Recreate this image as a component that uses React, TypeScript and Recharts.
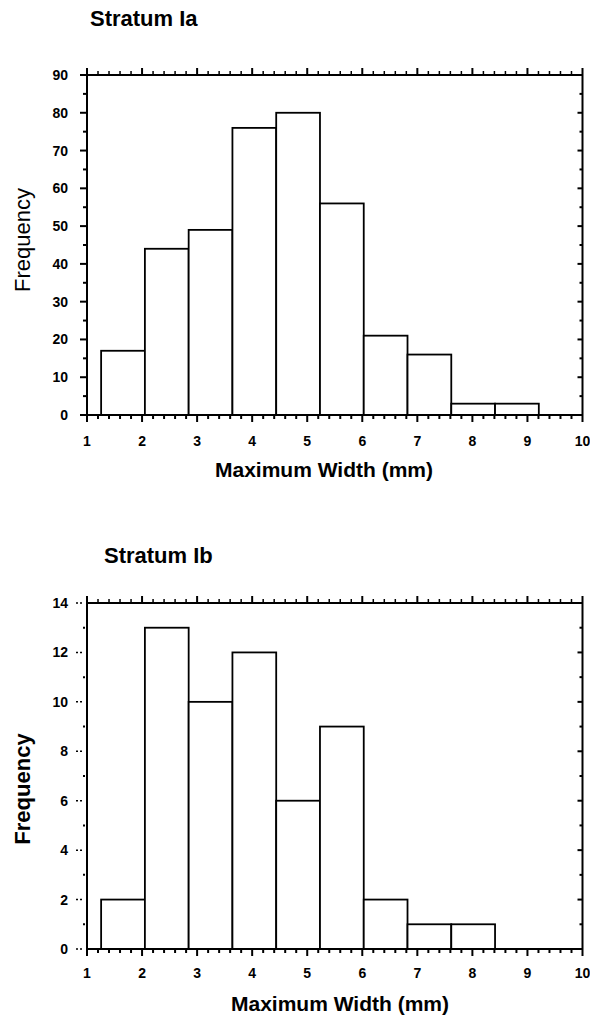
import React from 'react';
import { BarChart, Bar, XAxis, YAxis } from 'recharts';

const FONT = '"Liberation Sans", Arial, Helvetica, sans-serif';

// histogram bins in mm (same bins for both strata)
const binStarts = [1.26, 2.055, 2.85, 3.645, 4.44, 5.235, 6.03, 6.825, 7.62, 8.415];
const binEnds = [2.055, 2.85, 3.645, 4.44, 5.235, 6.03, 6.825, 7.62, 8.415, 9.21];

// frequencies
const countsIa = [17, 44, 49, 76, 80, 56, 21, 16, 3, 3];
const countsIb = [2, 13, 10, 12, 6, 9, 2, 1, 1, 0];

// axis ticks: labelled majors + unlabelled minors
const xMajorTicks = [1, 2, 3, 4, 5, 6, 7, 8, 9, 10];
const xTicks = Array.from({ length: 46 }, (_, i) => Math.round((1 + i * 0.2) * 10) / 10);
const yTicksIa = [0, 5, 10, 15, 20, 25, 30, 35, 40, 45, 50, 55, 60, 65, 70, 75, 80, 85, 90];
const yMajorIa = [0, 10, 20, 30, 40, 50, 60, 70, 80, 90];
const yTicksIb = [0, 1, 2, 3, 4, 5, 6, 7, 8, 9, 10, 11, 12, 13, 14];
const yMajorIb = [0, 2, 4, 6, 8, 10, 12, 14];

const W = 590;
const PLOT_LEFT = 87;
const PLOT_RIGHT = 582.5;
const PX_PER_MM = (PLOT_RIGHT - PLOT_LEFT) / 9;

const makeBins = (counts: number[]) =>
  binStarts.map((s, i) => ({
    start: s,
    end: binEnds[i],
    mid: (s + binEnds[i]) / 2,
    count: counts[i],
  }));

interface Geo {
  height: number;
  top: number;
  bottom: number;
  xLabelDy: number;
  xTitleX: number;
  yTitleY: number;
  yTitleBold: boolean;
  dottedY: boolean;
}

// bar outline, edges taken from bin start/end around the scaled centre
const HistRect = (props: any) => {
  const { x, width, y, height, payload } = props;
  if (!payload || !payload.count) return null;
  const cx = x + width / 2;
  const left = cx - (payload.mid - payload.start) * PX_PER_MM;
  const w = (payload.end - payload.start) * PX_PER_MM;
  return <rect x={left} y={y} width={w} height={height} fill="#fff" stroke="#000" strokeWidth={1.8} />;
};

const isMajor = (v: number, majors: number[]) => majors.some((m) => Math.abs(m - v) < 1e-6);

const BottomTick = (props: any) => {
  const { x, payload, g } = props;
  const v = payload.value;
  const major = isMajor(v, xMajorTicks);
  return (
    <g>
      <line x1={x} x2={x} y1={g.bottom} y2={g.bottom + (major ? 7 : 4)} stroke="#000" strokeWidth={2} />
      {major && (
        <text x={x} y={g.bottom + g.xLabelDy} textAnchor="middle" fontSize={14} fontWeight="bold" fontFamily={FONT} fill="#000">
          {v}
        </text>
      )}
    </g>
  );
};

const TopTick = (props: any) => {
  const { x, payload, g } = props;
  const major = isMajor(payload.value, xMajorTicks);
  return <line x1={x} x2={x} y1={g.top} y2={g.top - (major ? 7 : 4)} stroke="#000" strokeWidth={major ? 2 : 1.5} />;
};

const LeftTick = (props: any) => {
  const { y, payload, g, majors } = props;
  const v = payload.value;
  const major = isMajor(v, majors);
  let mark;
  if (g.dottedY) {
    mark = major ? (
      <line x1={76} x2={83} y1={y} y2={y} stroke="#000" strokeWidth={1.5} strokeDasharray="2 2" />
    ) : (
      <line x1={83} x2={85} y1={y} y2={y} stroke="#000" strokeWidth={2} />
    );
  } else {
    mark = <line x1={PLOT_LEFT - (major ? 7 : 4)} x2={PLOT_LEFT} y1={y} y2={y} stroke="#000" strokeWidth={2} />;
  }
  return (
    <g>
      {mark}
      {major && (
        <text x={68} y={y + 5} textAnchor="end" fontSize={14} fontWeight="bold" fontFamily={FONT} fill="#000">
          {v}
        </text>
      )}
    </g>
  );
};

const RightTick = (props: any) => {
  const { y, payload, majors } = props;
  const major = isMajor(payload.value, majors);
  return <line x1={PLOT_RIGHT - (major ? 5 : 3)} x2={PLOT_RIGHT} y1={y} y2={y} stroke="#000" strokeWidth={2} />;
};

const XTitle = ({ g }: { g: Geo }) => (
  <text x={g.xTitleX} y={g.bottom + 62} textAnchor="middle" fontSize={21} fontWeight="bold" fontFamily={FONT} fill="#000">
    Maximum Width (mm)
  </text>
);

const YTitle = ({ g }: { g: Geo }) => (
  <text
    x={30}
    y={g.yTitleY}
    transform={`rotate(-90, 30, ${g.yTitleY})`}
    textAnchor="middle"
    fontSize={22}
    fontWeight={g.yTitleBold ? 'bold' : 'normal'}
    fontFamily={FONT}
    fill="#000"
  >
    Frequency
  </text>
);

interface HistProps {
  counts: number[];
  yMax: number;
  yTicks: number[];
  yMajors: number[];
  g: Geo;
}

function Histogram({ counts, yMax, yTicks, yMajors, g }: HistProps) {
  const data = makeBins(counts);
  return (
    <BarChart
      width={W}
      height={g.height}
      data={data}
      margin={{ top: g.top - 1, right: W - PLOT_RIGHT - 1, bottom: 0, left: 0 }}
    >
      <XAxis
        xAxisId="bottom"
        dataKey="mid"
        type="number"
        domain={[1, 10]}
        ticks={xTicks}
        interval={0}
        allowDataOverflow
        height={g.height - g.bottom}
        axisLine={{ stroke: '#000', strokeWidth: 2 }}
        tickLine={false}
        tick={(p: any) => <BottomTick {...p} g={g} />}
        label={<XTitle g={g} />}
      />
      <XAxis
        xAxisId="top"
        orientation="top"
        dataKey="mid"
        type="number"
        domain={[1, 10]}
        ticks={xTicks}
        interval={0}
        allowDataOverflow
        height={1}
        axisLine={{ stroke: '#000', strokeWidth: 2 }}
        tickLine={false}
        tick={(p: any) => <TopTick {...p} g={g} />}
      />
      <YAxis
        yAxisId="left"
        type="number"
        domain={[0, yMax]}
        ticks={yTicks}
        interval={0}
        allowDataOverflow
        width={PLOT_LEFT}
        axisLine={{ stroke: '#000', strokeWidth: 2 }}
        tickLine={false}
        tick={(p: any) => <LeftTick {...p} g={g} majors={yMajors} />}
        label={<YTitle g={g} />}
      />
      <YAxis
        yAxisId="right"
        orientation="right"
        type="number"
        domain={[0, yMax]}
        ticks={yTicks}
        interval={0}
        allowDataOverflow
        width={1}
        axisLine={{ stroke: '#000', strokeWidth: 2 }}
        tickLine={false}
        tick={(p: any) => <RightTick {...p} majors={yMajors} />}
      />
      <Bar
        xAxisId="bottom"
        yAxisId="left"
        dataKey="count"
        barSize={(binEnds[0] - binStarts[0]) * PX_PER_MM}
        shape={(p: any) => <HistRect {...p} />}
        isAnimationActive={false}
      />
      {/* invisible series so the frame axes (top/right) get drawn */}
      <Bar
        xAxisId="top"
        yAxisId="right"
        dataKey="count"
        barSize={1}
        shape={() => null}
        isAnimationActive={false}
      />
    </BarChart>
  );
}

const geoIa: Geo = {
  height: 500,
  top: 75,
  bottom: 415,
  xLabelDy: 31,
  xTitleX: 324,
  yTitleY: 240,
  yTitleBold: false,
  dottedY: false,
};

const geoIb: Geo = {
  height: 499,
  top: 83,
  bottom: 429,
  xLabelDy: 29,
  xTitleX: 340,
  yTitleY: 269,
  yTitleBold: true,
  dottedY: true,
};

const titleStyle: React.CSSProperties = {
  position: 'absolute',
  fontFamily: FONT,
  fontWeight: 'bold',
  fontSize: 22,
  lineHeight: '22px',
  color: '#000',
  whiteSpace: 'nowrap',
};

export default function App() {
  return (
    <div style={{ position: 'absolute', left: 0, top: 0, width: W, height: 1019, background: '#fff', overflow: 'hidden' }}>
      <div style={{ position: 'absolute', left: 0, top: 0 }}>
        <Histogram counts={countsIa} yMax={90} yTicks={yTicksIa} yMajors={yMajorIa} g={geoIa} />
      </div>
      <div style={{ position: 'absolute', left: 0, top: 520 }}>
        <Histogram counts={countsIb} yMax={14} yTicks={yTicksIb} yMajors={yMajorIb} g={geoIb} />
      </div>
      <div style={{ ...titleStyle, left: 90, top: 8 }}>Stratum Ia</div>
      <div style={{ ...titleStyle, left: 104, top: 545 }}>Stratum Ib</div>
    </div>
  );
}
